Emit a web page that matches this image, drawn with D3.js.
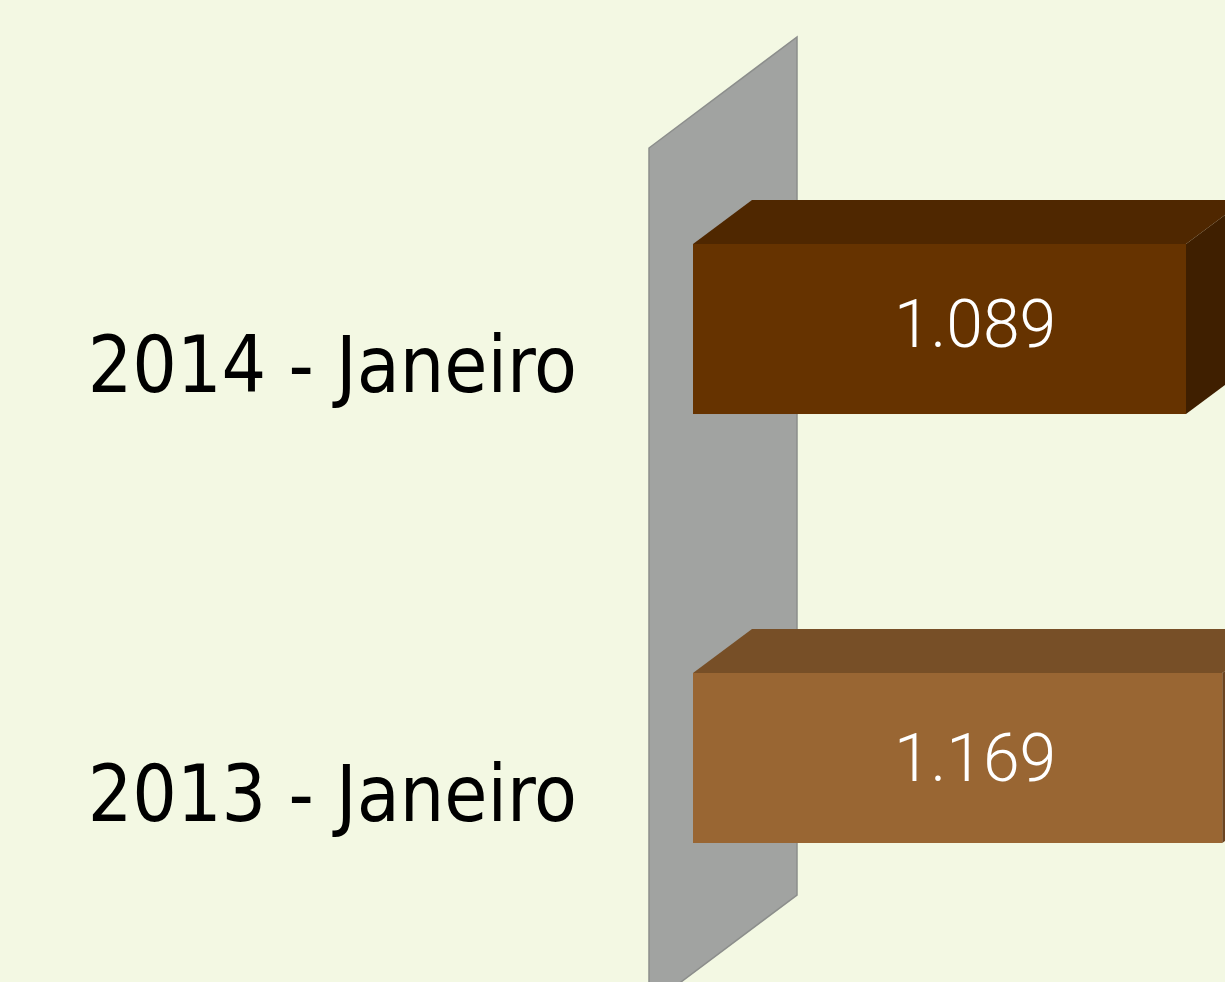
<!DOCTYPE html>
<html>
<head>
    <meta charset="utf-8">
    <title>Janeiro 2014 x 2013</title>
    <script src="https://cdnjs.cloudflare.com/ajax/libs/d3/7.8.5/d3.min.js"></script>
    <style>
    html, body{ margin: 0; padding: 0; background: #f3f8e3; overflow: hidden; }
    svg{ display: block; }
    </style>
</head>
<body>
    <svg width="1225" height="982"></svg>
    <script>
        // data
        var categories = ["2014 - Janeiro", "2013 - Janeiro"];
        var values = [1089, 1169];
        var frontColors = ["#663300", "#996633"];
        var topColors = ["#4f2700", "#774f27"];
        var sideColors = ["#3f1f00", "#6b4420"];

        var svg = d3.select("svg");
        var dx = 59, dy = -44;          // bar depth
        var wallDx = 148, wallDy = -111; // wall depth

        var x = d3.scaleLinear()
            .domain([0, 1089])
            .range([693, 1186]);

        var y = d3.scaleBand()
            .domain(categories)
            .range([115.3, 971.7])
            .paddingInner(0.6037)
            .paddingOuter(0.3);

        var fmt = d3.formatLocale({decimal: ",", thousands: ".", grouping: [3], currency: ["R$", ""]}).format(",d");

        // wall
        var wx = 649, wTop = 148, wBottom = 1006;
        svg.append("path")
            .attr("d", "M" + wx + "," + wTop +
                " L" + (wx + wallDx) + "," + (wTop + wallDy) +
                " L" + (wx + wallDx) + "," + (wBottom + wallDy) +
                " L" + wx + "," + wBottom + " Z")
            .attr("fill", "#a1a3a1")
            .attr("stroke", "#8c8e8c")
            .attr("stroke-width", 1.5);

        var rows = svg.selectAll("g.row")
            .data(values)
            .enter()
            .append("g")
            .attr("class", "row");

        // top face
        rows.append("path")
            .attr("d", function(d, i){
                var y0 = y(categories[i]), x0 = x(0), x1 = x(d);
                return "M" + x0 + "," + y0 + " L" + (x0 + dx) + "," + (y0 + dy) +
                    " L" + (x1 + dx) + "," + (y0 + dy) + " L" + x1 + "," + y0 + " Z";
            })
            .attr("fill", function(d, i){ return topColors[i]; });

        // side face
        rows.append("path")
            .attr("d", function(d, i){
                var y0 = y(categories[i]), y1 = y0 + y.bandwidth(), x1 = x(d);
                return "M" + x1 + "," + y0 + " L" + (x1 + dx) + "," + (y0 + dy) +
                    " L" + (x1 + dx) + "," + (y1 + dy) + " L" + x1 + "," + y1 + " Z";
            })
            .attr("fill", function(d, i){ return sideColors[i]; });

        // front face
        rows.append("rect")
            .attr("x", x(0))
            .attr("y", function(d, i){ return y(categories[i]); })
            .attr("width", function(d){ return x(d) - x(0); })
            .attr("height", y.bandwidth())
            .attr("fill", function(d, i){ return frontColors[i]; });

        // value labels
        rows.append("text")
            .attr("x", 975)
            .attr("y", function(d, i){ return y(categories[i]) + y.bandwidth() / 2 + (i == 0 ? -5 : 0); })
            .attr("dy", "0.35em")
            .attr("text-anchor", "middle")
            .attr("fill", "#ffffff")
            .style("font-family", "Roboto")
            .style("font-weight", 300)
            .style("font-size", "66px")
            .text(function(d){ return fmt(d); });

        // category labels
        rows.append("text")
            .attr("x", 577)
            .attr("y", function(d, i){ return y(categories[i]) + y.bandwidth() / 2 + 36; })
            .attr("dy", "0.35em")
            .attr("text-anchor", "end")
            .attr("fill", "#000000")
            .style("font-family", "'DejaVu Sans Condensed', 'DejaVu Sans'")
            .style("font-size", "78px")
            .text(function(d, i){ return categories[i]; });
    </script>
</body>
</html>
